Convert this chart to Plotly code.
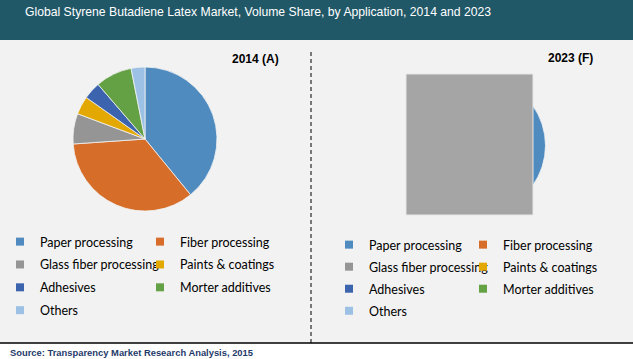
import plotly.graph_objects as go

W, H = 633, 359

title_text = "Global Styrene Butadiene Latex Market, Volume Share, by Application, 2014 and 2023"
source_text = "Source: Transparency Market Research Analysis, 2015"
year_labels = ["2014 (A)", "2023 (F)"]

categories = ["Paper processing", "Fiber processing", "Glass fiber processing",
              "Paints & coatings", "Adhesives", "Morter additives", "Others"]
share_2014 = [39.1, 34.8, 6.8, 4.1, 3.9, 8.2, 3.1]
share_2023 = [40.0, 33.5, 7.0, 4.3, 4.0, 8.2, 3.0]

colors = ["#4F8BBF", "#D66E2A", "#959595", "#E3A902", "#3C63AE", "#64A044", "#9CC1E4"]

def px_x(x):
    return x / W

def px_y(y):
    return 1 - y / H

fig = go.Figure()

def pie_domain(cx, cy, r):
    return dict(x=[px_x(cx - r), px_x(cx + r)], y=[px_y(cy + r), px_y(cy - r)])

for vals, (cx, cy, r) in [(share_2014, (145, 139, 72)), (share_2023, (476.5, 145.5, 69))]:
    fig.add_trace(go.Pie(
        labels=categories, values=vals, sort=False, direction="clockwise", rotation=0,
        marker=dict(colors=colors, line=dict(color="#F2F2F2", width=0.8)),
        textinfo="none", hoverinfo="label+percent", showlegend=False,
        domain=pie_domain(cx, cy, r),
    ))

col_a = [0, 2, 4, 6]
col_b = [1, 3, 5]
legend_map = [("legend", col_a), ("legend2", col_b), ("legend3", col_a), ("legend4", col_b)]
for lname, idxs in legend_map:
    for i in idxs:
        fig.add_trace(go.Scatter(
            x=[None], y=[None], mode="markers", name=categories[i],
            marker=dict(symbol="square", size=8, color=colors[i]),
            legend=lname, legendgroup=f"{lname}_{i}", showlegend=True, hoverinfo="skip",
        ))

leg_font = dict(family="Lato, Carlito, Calibri, sans-serif", size=12.5, color="#000000")
def leg(xpx, ypx, gap):
    return dict(x=px_x(xpx), y=px_y(ypx), xanchor="left", yanchor="top",
                orientation="v", bgcolor="rgba(0,0,0,0)", font=leg_font,
                tracegroupgap=gap, itemclick=False, itemdoubleclick=False)

shapes = [
    dict(type="rect", xref="paper", yref="paper", x0=0, x1=1, y0=px_y(40), y1=1,
         fillcolor="#215868", line=dict(width=0), layer="below"),
    dict(type="rect", xref="paper", yref="paper", x0=0, x1=1, y0=px_y(343), y1=px_y(40),
         fillcolor="#F2F2F2", line=dict(width=0), layer="below"),
    dict(type="line", xref="paper", yref="paper", x0=0, x1=1, y0=px_y(343), y1=px_y(343),
         line=dict(color="#000000", width=1.5), layer="below"),
    dict(type="line", xref="paper", yref="paper", x0=px_x(311), x1=px_x(311), y0=px_y(343), y1=px_y(51),
         line=dict(color="#000000", width=1, dash="4px,3px"), layer="below"),
    dict(type="rect", xref="paper", yref="paper", x0=px_x(406), x1=px_x(533), y0=px_y(215), y1=px_y(74),
         fillcolor="#A5A5A5", line=dict(color="#E6E6E6", width=1), layer="above"),
]

annotations = [
    dict(text=title_text, xref="paper", yref="paper", x=px_x(23), y=px_y(12), xanchor="left", yanchor="middle",
         showarrow=False, font=dict(family="Liberation Sans Narrow, Arial Narrow, Liberation Sans, Arial", size=12.2, color="#FFFFFF")),
    dict(text="<b>" + year_labels[0] + "</b>", xref="paper", yref="paper", x=px_x(230), y=px_y(59),
         xanchor="left", yanchor="middle", showarrow=False,
         font=dict(family="Liberation Sans, Arial", size=12, color="#000000")),
    dict(text="<b>" + year_labels[1] + "</b>", xref="paper", yref="paper", x=px_x(546), y=px_y(58),
         xanchor="left", yanchor="middle", showarrow=False,
         font=dict(family="Liberation Sans, Arial", size=12, color="#000000")),
    dict(text="<b>" + source_text + "</b>", xref="paper", yref="paper", x=px_x(8), y=px_y(352),
         xanchor="left", yanchor="middle", showarrow=False,
         font=dict(family="Liberation Sans Narrow, Arial Narrow, Liberation Sans, Arial", size=9.4, color="#1F3B6B")),
]

fig.update_layout(
    width=W, height=H, margin=dict(l=0, r=0, t=0, b=0),
    paper_bgcolor="#FFFFFF", plot_bgcolor="rgba(0,0,0,0)",
    xaxis=dict(visible=False), yaxis=dict(visible=False),
    shapes=shapes, annotations=annotations,
    legend=leg(0, 227, 3.6), legend2=leg(140, 227, 3.6),
    legend3=leg(329, 230, 2.8), legend4=leg(463, 230, 2.8),
)

fig.write_html("out.html", config={"displayModeBar": False},
               post_script="document.body.style.margin='0';document.body.style.overflow='hidden';")
